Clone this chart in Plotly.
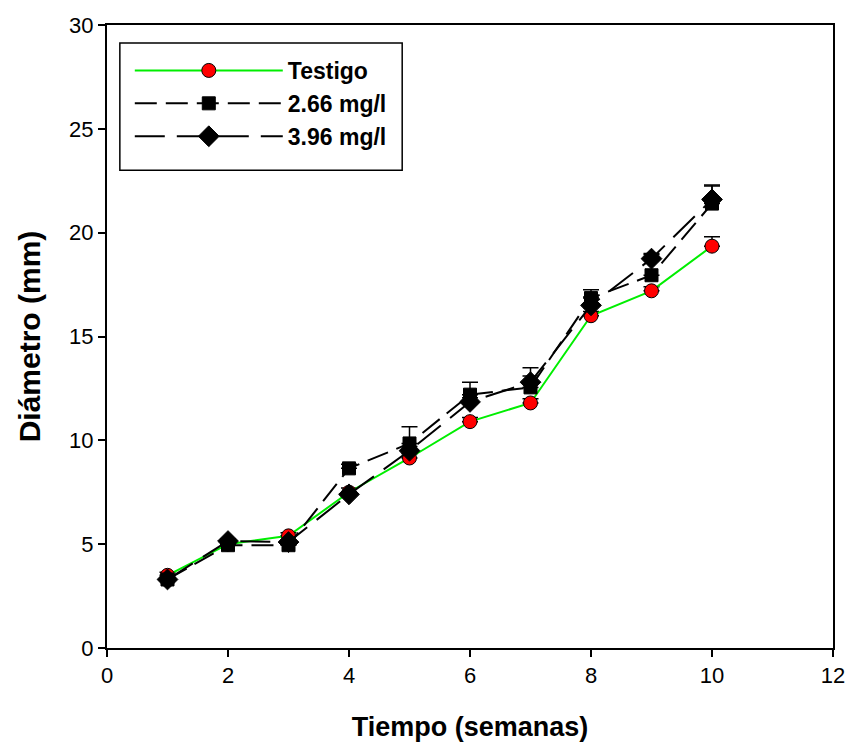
import plotly.graph_objects as go

# Semanas de muestreo
semanas = [1, 2, 3, 4, 5, 6, 7, 8, 9, 10]

# Diámetro medio (mm) y error (solo hacia arriba)
testigo = [3.5, 5.0, 5.4, 7.5, 9.15, 10.9, 11.8, 16.0, 17.2, 19.35]
testigo_err = [0.15, 0.1, 0.15, 0.2, 0.2, 0.2, 0.2, 0.2, 0.2, 0.45]

dosis_266 = [3.3, 4.95, 4.95, 8.65, 9.85, 12.2, 12.55, 16.85, 17.95, 21.4]
dosis_266_err = [0.1, 0.1, 0.2, 0.2, 0.8, 0.6, 0.95, 0.4, 1.0, 0.9]

dosis_396 = [3.3, 5.15, 5.1, 7.4, 9.5, 11.85, 12.8, 16.5, 18.75, 21.6]
dosis_396_err = [0.1, 0.1, 0.1, 0.1, 0.2, 0.2, 0.3, 0.4, 0.25, 0.65]

nombres = ["Testigo", "2.66 mg/l", "3.96 mg/l"]
x_ticks = [0, 2, 4, 6, 8, 10, 12]
y_ticks = [0, 5, 10, 15, 20, 25, 30]

FONT = "Liberation Sans, Arial, sans-serif"


def err_up(vals):
    return dict(type="data", array=vals, arrayminus=[0] * len(vals),
                symmetric=False, color="black", thickness=1.5, width=8)


fig = go.Figure()

fig.add_trace(go.Scatter(
    x=semanas, y=testigo, name=nombres[0], mode="lines+markers",
    line=dict(color="#00EE00", width=2),
    marker=dict(symbol="circle", size=14, color="#FF0000",
                line=dict(color="black", width=1)),
    error_y=err_up(testigo_err),
))

fig.add_trace(go.Scatter(
    x=semanas, y=dosis_266, name=nombres[1], mode="lines+markers",
    line=dict(color="black", width=2, dash="22px,9px"),
    marker=dict(symbol="square", size=13, color="black",
                line=dict(color="black", width=1)),
    error_y=err_up(dosis_266_err),
))

fig.add_trace(go.Scatter(
    x=semanas, y=dosis_396, name=nombres[2], mode="lines+markers",
    line=dict(color="black", width=2, dash="30px,12px"),
    marker=dict(symbol="diamond", size=16, color="black",
                line=dict(color="black", width=1)),
    error_y=err_up(dosis_396_err),
))

axis_common = dict(
    showline=True, linecolor="black", linewidth=2, mirror=True,
    ticks="outside", ticklen=7, tickwidth=2, tickcolor="black",
    showgrid=False, zeroline=False, ticklabeloverflow="allow",
    tickfont=dict(family=FONT, size=22, color="black"),
)

fig.update_layout(
    width=857, height=752,
    margin=dict(l=107, r=17, t=25, b=104),
    paper_bgcolor="white", plot_bgcolor="white",
    xaxis=dict(range=[0, 12], tickvals=x_ticks,
               title=dict(text="<b>Tiempo (semanas)</b>", standoff=30,
                          font=dict(family=FONT, size=27, color="black")),
               **axis_common),
    yaxis=dict(range=[0, 30], tickvals=y_ticks,
               title=dict(text="<b>Diámetro (mm)</b>", standoff=20,
                          font=dict(family=FONT, size=30, color="black")),
               **axis_common),
    legend=dict(
        x=0.0314, y=0.9615, xanchor="left", yanchor="top",
        bgcolor="rgba(0,0,0,0)", borderwidth=0,
        itemwidth=148, tracegroupgap=0,
        font=dict(family=FONT, size=23, color="black", weight="bold"),
    ),
    # marco de la leyenda
    shapes=[dict(type="rect", xref="paper", yref="paper",
                 x0=0.0177, x1=0.4066, y0=0.767, y1=0.971,
                 line=dict(color="black", width=1.5),
                 fillcolor="white", layer="below")],
    showlegend=True,
)

fig.write_html("out.html")
